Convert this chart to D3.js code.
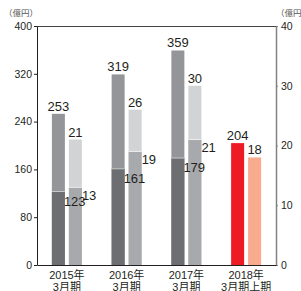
<!DOCTYPE html>
<html>
<head>
<meta charset="utf-8">
<script src="https://cdn.jsdelivr.net/npm/d3@7"></script>
<style>
  body { margin: 0; background: #fff; }
  svg { font-family: "Liberation Sans", "Noto Sans CJK JP", sans-serif; }
</style>
</head>
<body>
<svg width="301" height="291"></svg>
<script>
var years = ["2015年", "2016年", "2017年", "2018年"];
var periods = ["3月期", "3月期", "3月期", "3月期上期"];

// left axis (億円, 0-400)
var leftTotal = [253, 319, 359, 204];
var leftLower = [123, 161, 179, null];
// right axis (億円, 0-40)
var rightTotal = [21, 26, 30, 18];
var rightLower = [13, 19, 21, null];

var leftTicks = [0, 80, 160, 240, 320, 400];
var rightTicks = [0, 10, 20, 30, 40];

var svg = d3.select("svg");
var x0 = 37, x1 = 276, yTop = 26, yBot = 265;

var x = d3.scaleBand().domain(years).range([x0, x1]);
var sub = d3.scaleBand().domain(["l", "r"])
    .range([x.bandwidth() / 2 - 15, x.bandwidth() / 2 + 15])
    .paddingInner(0.235);
var yL = d3.scaleLinear().domain([0, 400]).range([yBot, yTop]);
var yR = d3.scaleLinear().domain([0, 40]).range([yBot, yTop]);

var data = years.map(function(y, i) {
    return { year: y, period: periods[i], lt: leftTotal[i], ll: leftLower[i], rt: rightTotal[i], rl: rightLower[i], last: leftLower[i] == null };
});

// top frame line
svg.append("line").attr("x1", x0).attr("x2", x1).attr("y1", yTop + 0.5).attr("y2", yTop + 0.5)
    .attr("stroke", "#444").attr("stroke-width", 1);

var g = svg.append("g").selectAll("g").data(data).enter().append("g")
    .attr("transform", function(d) { return "translate(" + x(d.year) + ",0)"; });

// left bars
g.append("rect")
    .attr("x", sub("l")).attr("width", sub.bandwidth())
    .attr("y", function(d) { return yL(d.lt); })
    .attr("height", function(d) { return yBot - yL(d.lt); })
    .attr("fill", function(d) { return d.last ? "#ed1c24" : "#939598"; });
g.filter(function(d) { return !d.last; }).append("rect")
    .attr("x", sub("l")).attr("width", sub.bandwidth())
    .attr("y", function(d) { return yL(d.ll); })
    .attr("height", function(d) { return yBot - yL(d.ll); })
    .attr("fill", "#6d6e71");
g.filter(function(d) { return !d.last; }).append("line")
    .attr("x1", sub("l")).attr("x2", sub("l") + sub.bandwidth())
    .attr("y1", function(d) { return yL(d.ll); }).attr("y2", function(d) { return yL(d.ll); })
    .attr("stroke", "#c8c8c8").attr("stroke-width", 1);

// right bars
g.append("rect")
    .attr("x", sub("r")).attr("width", sub.bandwidth())
    .attr("y", function(d) { return yR(d.rt); })
    .attr("height", function(d) { return yBot - yR(d.rt); })
    .attr("fill", function(d) { return d.last ? "#f9ab8e" : "#d1d3d4"; });
g.filter(function(d) { return !d.last; }).append("rect")
    .attr("x", sub("r")).attr("width", sub.bandwidth())
    .attr("y", function(d) { return yR(d.rl); })
    .attr("height", function(d) { return yBot - yR(d.rl); })
    .attr("fill", "#a7a9ac");
g.filter(function(d) { return !d.last; }).append("line")
    .attr("x1", sub("r")).attr("x2", sub("r") + sub.bandwidth())
    .attr("y1", function(d) { return yR(d.rl); }).attr("y2", function(d) { return yR(d.rl); })
    .attr("stroke", "#ececec").attr("stroke-width", 1);

// value labels
g.append("text")
    .attr("x", sub("l") + sub.bandwidth() / 2)
    .attr("y", function(d) { return yL(d.lt) - 3; })
    .attr("text-anchor", "middle").attr("font-size", 13).attr("fill", "#231f20")
    .text(function(d) { return d.lt; });
g.append("text")
    .attr("x", sub("r") + sub.bandwidth() / 2)
    .attr("y", function(d) { return yR(d.rt) - 3; })
    .attr("text-anchor", "middle").attr("font-size", 13).attr("fill", "#231f20")
    .text(function(d) { return d.rt; });
g.filter(function(d) { return !d.last; }).append("text")
    .attr("x", sub("l") + sub.bandwidth() - 1)
    .attr("y", function(d) { return yL(d.ll) + 14; })
    .attr("font-size", 13).attr("fill", "#231f20")
    .text(function(d) { return d.ll; });
g.filter(function(d) { return !d.last; }).append("text")
    .attr("x", sub("r") + sub.bandwidth())
    .attr("y", function(d) { return yR(d.rl) + 12.5; })
    .attr("font-size", 13).attr("fill", "#231f20")
    .text(function(d) { return d.rl; });

// axes
var axL = svg.append("g").attr("transform", "translate(" + x0 + ",0)")
    .call(d3.axisLeft(yL).tickValues(leftTicks).tickSize(3).tickSizeOuter(0).tickPadding(2));
axL.select(".domain").attr("stroke", "#231f20");
axL.selectAll(".tick line").attr("stroke", "#231f20");
axL.selectAll("text").attr("font-size", 10.5).attr("fill", "#231f20")
    .attr("font-family", "Liberation Sans, sans-serif");

var axR = svg.append("g").attr("transform", "translate(" + x1 + ",0)")
    .call(d3.axisRight(yR).tickValues(rightTicks).tickSize(2).tickSizeOuter(0).tickPadding(3));
axR.select(".domain").attr("stroke", "#808285").attr("stroke-width", 1.5);
axR.selectAll(".tick line").attr("stroke", "#808285");
axR.selectAll("text").attr("font-size", 10.5).attr("fill", "#231f20")
    .attr("font-family", "Liberation Sans, sans-serif");

var axB = svg.append("g").attr("transform", "translate(0," + yBot + ")")
    .call(d3.axisBottom(x).tickSize(0).tickSizeOuter(0).tickFormat(""));
axB.select(".domain").attr("stroke", "#231f20").attr("stroke-width", 1.2);
axB.selectAll(".tick").each(function(d, i) {
    var t = d3.select(this).append("text").attr("text-anchor", "middle")
        .attr("font-size", 11).attr("fill", "#231f20")
        .attr("font-family", "Liberation Sans, Noto Sans CJK JP, sans-serif");
    t.append("tspan").attr("x", 0).attr("y", 14).text(d);
    t.append("tspan").attr("x", 0).attr("y", 26).text(periods[i]);
});

// units
svg.append("text").attr("x", 4).attr("y", 16).attr("font-size", 8.5).attr("fill", "#555")
    .attr("font-family", "Noto Sans CJK JP, sans-serif").text("（億円）");
svg.append("text").attr("x", 276).attr("y", 16).attr("font-size", 8.5).attr("fill", "#555")
    .attr("font-family", "Noto Sans CJK JP, sans-serif").text("（億円）");
</script>
</body>
</html>
